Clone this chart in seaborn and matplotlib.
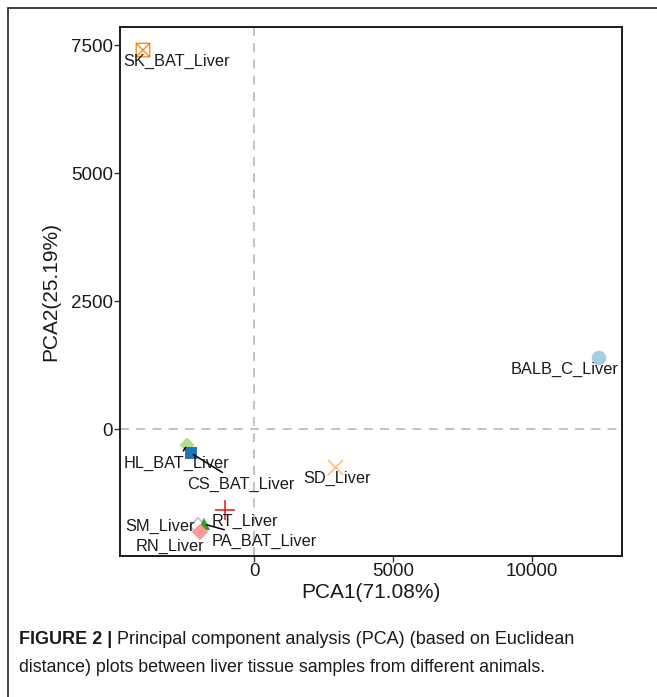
import numpy as np
import pandas as pd
import seaborn as sns
import matplotlib.pyplot as plt
from matplotlib.path import Path
from matplotlib.lines import Line2D

samples = ["BALB_C_Liver", "CS_BAT_Liver", "HL_BAT_Liver", "PA_BAT_Liver", "RN_Liver",
           "RT_Liver", "SD_Liver", "SK_BAT_Liver", "SM_Liver"]
pc1 = [12410, -2266, -2410, -1800, -1942, -1043, 2914, -3993, -2014]
pc2 = [1387, -469, -312, -1855, -2012, -1582, -742, 7402, -1895]
pc1_label = "PCA1(71.08%)"
pc2_label = "PCA2(25.19%)"
x_ticks = [0, 5000, 10000]
y_ticks = [0, 2500, 5000, 7500]
caption_bold = "FIGURE 2 |"
caption_rest = " Principal component analysis (PCA) (based on Euclidean"
caption_line2 = "distance) plots between liver tissue samples from different animals."

df = pd.DataFrame({"sample": samples, "PC1": pc1, "PC2": pc2})

# square with a cross inside, as a single line-art path
sq_cross = Path(
    [(-1, -1), (1, -1), (1, 1), (-1, 1), (-1, -1), (-1, -1), (1, 1), (-1, 1), (1, -1)],
    [Path.MOVETO, Path.LINETO, Path.LINETO, Path.LINETO, Path.LINETO,
     Path.MOVETO, Path.LINETO, Path.MOVETO, Path.LINETO],
)

palette = dict(zip(samples, sns.color_palette("Paired", len(samples))))
style = {
    "BALB_C_Liver": dict(marker="o", s=110, kind="filled", lw=0),
    "CS_BAT_Liver": dict(marker="s", s=65, kind="filled", lw=0),
    "HL_BAT_Liver": dict(marker="D", s=60, kind="filled", lw=0),
    "PA_BAT_Liver": dict(marker="^", s=80, kind="filled", lw=0),
    "RN_Liver": dict(marker="D", s=70, kind="filled", lw=0),
    "RT_Liver": dict(marker="+", s=200, kind="line", lw=1.1),
    "SD_Liver": dict(marker="x", s=120, kind="line", lw=1.1),
    "SK_BAT_Liver": dict(marker=sq_cross, s=95, kind="hollow", lw=0.9),
    "SM_Liver": dict(marker="D", s=70, kind="hollow", lw=1.1),
}
# label offsets (pixels) and whether a connector segment is drawn
label_offset = {
    "BALB_C_Liver": (-34, -11, False),
    "CS_BAT_Liver": (50, -31, True),
    "HL_BAT_Liver": (-11, -18, True),
    "PA_BAT_Liver": (60, -17, True),
    "RN_Liver": (-30, -14, False),
    "RT_Liver": (20, -11, False),
    "SD_Liver": (2, -11, False),
    "SK_BAT_Liver": (34, -11, False),
    "SM_Liver": (-38, 0, False),
}

sns.set_theme(style="white")
plt.rcParams["font.family"] = ["Liberation Sans", "DejaVu Sans"]

W, H = 657, 697
fig = plt.figure(figsize=(W / 100, H / 100), dpi=100)
ax = fig.add_axes([120 / W, 1 - 556 / H, (622 - 120) / W, (556 - 27) / H])

ax.axhline(0, color="#bdbdbd", lw=1.3, ls=(0, (5, 4)), zorder=0)
ax.axvline(0, color="#bdbdbd", lw=1.3, ls=(0, (5, 4)), zorder=0)

draw_order = ["BALB_C_Liver", "SD_Liver", "SK_BAT_Liver", "HL_BAT_Liver", "CS_BAT_Liver",
              "RT_Liver", "SM_Liver", "PA_BAT_Liver", "RN_Liver"]
for name in draw_order:
    sub = df[df["sample"] == name]
    st = style[name]
    col = palette[name]
    if st["kind"] == "hollow":
        sns.scatterplot(data=sub, x="PC1", y="PC2", ax=ax, marker=st["marker"], s=st["s"],
                        facecolors="none", edgecolors=[col], linewidths=st["lw"], zorder=3)
    elif st["kind"] == "filled":
        sns.scatterplot(data=sub, x="PC1", y="PC2", ax=ax, marker=st["marker"], s=st["s"],
                        color=col, edgecolor="none", linewidth=0, zorder=3)
    else:
        sns.scatterplot(data=sub, x="PC1", y="PC2", ax=ax, marker=st["marker"], s=st["s"],
                        color=col, linewidth=st["lw"], zorder=3)

for name, x, y in zip(samples, pc1, pc2):
    dx, dy, seg = label_offset[name]
    kw = dict(arrowprops=dict(arrowstyle="-", color="black", lw=1.1, shrinkA=1, shrinkB=2)) if seg else {}
    ax.annotate(name, xy=(x, y), xytext=(dx, dy), textcoords="offset pixels",
                ha="center", va="center", fontsize=11.8, color="#1a1a1a", zorder=4, **kw)

ax.set_xlim(-4820, 13237)
ax.set_ylim(-2480, 7852)
ax.set_xticks(x_ticks)
ax.set_yticks(y_ticks)
ax.set_xlabel(pc1_label, fontsize=15, color="#1a1a1a", labelpad=2)
ax.set_ylabel(pc2_label, fontsize=15, color="#1a1a1a", labelpad=8)
ax.tick_params(axis="both", labelsize=13.5, colors="#333333", labelcolor="#1a1a1a",
               length=4, width=1, direction="out", bottom=True, left=True, pad=1)
for sp in ax.spines.values():
    sp.set_color("#1a1a1a")
    sp.set_linewidth(1.4)

# outer figure frame (left and top edges)
fig.add_artist(Line2D([8 / W, 8 / W], [0, 1 - 8 / H], transform=fig.transFigure,
                      color="#333333", lw=1.3))
fig.add_artist(Line2D([8 / W, 1], [1 - 8 / H, 1 - 8 / H], transform=fig.transFigure,
                      color="#333333", lw=1.3))

cap_font = ["Liberation Sans Narrow", "Liberation Sans", "DejaVu Sans"]
t1 = fig.text(19 / W, 1 - 640 / H, caption_bold, fontsize=13, fontweight="bold",
              family=cap_font, va="center", ha="left", color="#1a1a1a")
fig.canvas.draw()
bb = t1.get_window_extent()
fig.text(bb.x1 / W, 1 - 640 / H, caption_rest, fontsize=13, family=cap_font,
         va="center", ha="left", color="#1a1a1a")
fig.text(19 / W, 1 - 668 / H, caption_line2, fontsize=12.8, family=cap_font,
         va="center", ha="left", color="#1a1a1a")

fig.savefig("out.png", dpi=100, facecolor="white")
